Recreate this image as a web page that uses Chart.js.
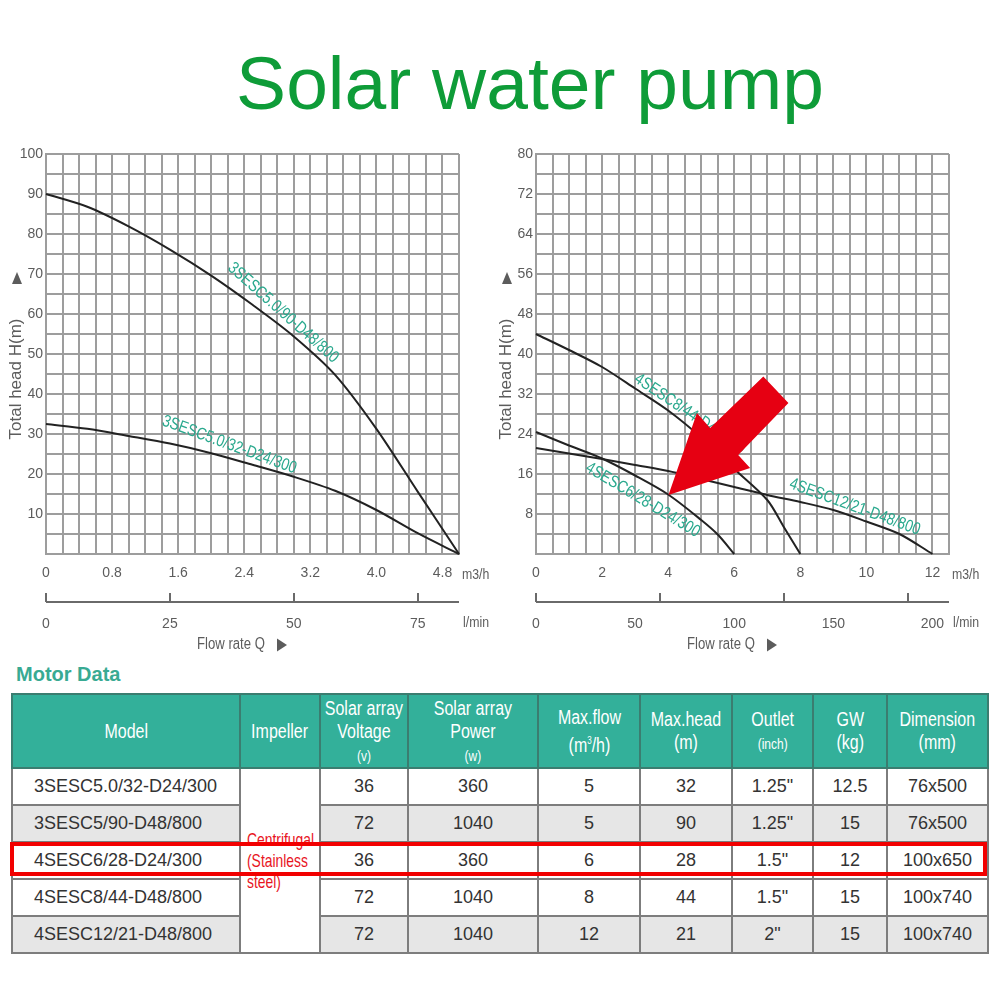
<!DOCTYPE html>
<html>
<head>
<meta charset="utf-8">
<script src="https://cdn.jsdelivr.net/npm/chart.js@4.4.1/dist/chart.umd.min.js"></script>
<style>
  body { margin: 0; width: 1000px; height: 1000px; background: #fff; position: relative; overflow: hidden; }
  #title { position: absolute; left: 0; top: 46px; width: 1060px; text-align: center;
    font: 75px/75px "Liberation Sans", Arial, sans-serif; color: #0e9c38; }
  .box { position: absolute; top: 140px; height: 520px; }
  #motor { position: absolute; left: 16px; top: 664px; font: bold 20px/20px "Liberation Sans", Arial, sans-serif; color: #38aa93; }
  table { position: absolute; left: 11px; top: 693px; width: 976px; border-collapse: collapse; table-layout: fixed;
    font-family: "Liberation Sans", Arial, sans-serif; }
  th { background: #33b09a; color: #fff; font-weight: normal; font-size: 20px; line-height: 23px; height: 72px;
    border: 2px solid #3b7d70; padding: 0; overflow: visible; }
  th small { font-size: 15px; line-height: 20px; }
  .nar { display: inline-block; transform: scaleX(0.8); white-space: nowrap; margin: 0 -40px; }
  td { font-size: 18px; color: #333; text-align: center; height: 35px; padding: 0; border: 2px solid #7d7d7d; }
  td.model { text-align: left; padding-left: 21px; }
  td.imp { color: #e8141e; background: #fff; text-align: left; padding-left: 6px; font-size: 18.5px; line-height: 21px; overflow: visible; }
  td.imp .nar { transform: scaleX(0.75); transform-origin: 0 50%; margin: 0; }
  tr.gray td { background: #e6e6e6; }
  #hl { position: absolute; left: 10px; top: 842px; width: 969px; height: 26px; border: 4px solid #f20000; }
</style>
</head>
<body>
<div id="title">Solar water pump</div>
<div class="box" style="left:0;width:495px"><canvas id="c1"></canvas></div>
<div class="box" style="left:495px;width:505px"><canvas id="c2"></canvas></div>
<div id="motor">Motor Data</div>
<table id="tbl"></table>
<div id="hl"></div>
<script>
const M3H_TO_LPM = 1000 / 60;

// left chart: 3" pumps
const flow1 = [0, 0.5, 1, 1.5, 2, 2.5, 3, 3.5, 4, 4.5, 5];
const head_5_90 = [90, 86.8, 81.9, 76.1, 69.6, 62.3, 54.4, 44.8, 31.3, 15.6, 0];
const head_5_32 = [32.5, 31.3, 29.5, 27.6, 25.2, 22.3, 19.3, 15.8, 11.0, 5.2, 0];
const qLabels1 = ['0', '0.8', '1.6', '2.4', '3.2', '4.0', '4.8'];
const hLabels1 = [10, 20, 30, 40, 50, 60, 70, 80, 90, 100];
const lpmLabels1 = [0, 25, 50, 75];

// right chart: 4" pumps
const flow_8_44 = [0, 1, 2, 3, 4, 5, 6, 7, 7.5, 8];
const head_8_44 = [44, 40.8, 37.4, 33.1, 28.7, 23.3, 17.0, 10.8, 5.4, 0];
const flow_6_28 = [0, 1, 2, 3, 4, 5, 5.5, 6];
const head_6_28 = [24.4, 21.7, 19.1, 15.7, 11.9, 6.8, 3.9, 0];
const flow_12_21 = [0, 1, 2, 3, 4, 5, 6, 7, 8, 9, 10, 11, 12];
const head_12_21 = [21.2, 20.1, 19.0, 17.8, 16.6, 15.0, 13.4, 11.8, 10.4, 8.8, 6.5, 4.0, 0];
const qLabels2 = ['0', '2', '4', '6', '8', '10', '12'];
const hLabels2 = [8, 16, 24, 32, 40, 48, 56, 64, 72, 80];
const lpmLabels2 = [0, 50, 100, 150, 200];

// table
const models = ['3SESC5.0/32-D24/300', '3SESC5/90-D48/800', '4SESC6/28-D24/300', '4SESC8/44-D48/800', '4SESC12/21-D48/800'];
const voltages = [36, 72, 36, 72, 72];
const powers = [360, 1040, 360, 1040, 1040];
const maxFlows = [5, 5, 6, 8, 12];
const maxHeads = [32, 90, 28, 44, 21];
const outlets = ['1.25"', '1.25"', '1.5"', '1.5"', '2"'];
const weights = ['12.5', '15', '12', '15', '15'];
const dims = ['76x500', '76x500', '100x650', '100x740', '100x740'];
const headers = ['Model', 'Impeller', 'Solar array<br>Voltage<br><small>(v)</small>', 'Solar array<br>Power<br><small>(w)</small>',
  'Max.flow<br>(m<sup style="font-size:10px">3</sup>/h)', 'Max.head<br>(m)', 'Outlet<br><small>(inch)</small>', 'GW<br>(kg)', 'Dimension<br>(mm)'];
const colWidths = [228, 80, 88, 130, 102, 92, 81, 74, 101];

const GRID = '#9d9d9d';
const TXT = '#5c5c5c';
Chart.defaults.font.family = '"Liberation Sans", Arial, sans-serif';

function tri(ctx, cx, cy, dir) {
  ctx.beginPath();
  if (dir === 'up') { ctx.moveTo(cx, cy - 6); ctx.lineTo(cx + 5, cy + 6); ctx.lineTo(cx - 5, cy + 6); }
  else { ctx.moveTo(cx + 5, cy); ctx.lineTo(cx - 5, cy - 6.5); ctx.lineTo(cx - 5, cy + 6.5); }
  ctx.closePath();
  ctx.fill();
}

// condensed text (no narrow font installed)
function narrowText(ctx, text, x, y, angle) {
  ctx.save();
  ctx.translate(x, y);
  ctx.rotate((angle || 0) * Math.PI / 180);
  ctx.scale(0.82, 1);
  ctx.fillText(text, 0, 0);
  ctx.restore();
}

function makeDeco(cfg) {
  return {
    id: 'deco',
    afterDatasetsDraw(chart) {
      const {ctx, scales: {x, y}} = chart;
      ctx.save();
      ctx.fillStyle = '#2aa98e';
      ctx.font = '17px "Liberation Sans", Arial, sans-serif';
      ctx.textAlign = 'center';
      ctx.textBaseline = 'middle';
      cfg.notes.forEach(n => narrowText(ctx, n.text, x.getPixelForValue(n.q), y.getPixelForValue(n.h), n.angle));
      if (cfg.arrow) {
        ctx.fillStyle = '#e60012';
        ctx.beginPath();
        cfg.arrow.forEach((p, i) => {
          const px = x.getPixelForValue(p[0]), py = y.getPixelForValue(p[1]);
          i ? ctx.lineTo(px, py) : ctx.moveTo(px, py);
        });
        ctx.closePath();
        ctx.fill();
      }
      ctx.restore();
    },
    afterDraw(chart) {
      const {ctx, chartArea: a} = chart;
      const x2 = chart.scales.x2;
      ctx.save();
      // l/min axis line with its marks
      const ly = a.bottom + 48;
      ctx.strokeStyle = '#6a6a6a';
      ctx.lineWidth = 2;
      ctx.beginPath();
      ctx.moveTo(a.left, ly);
      ctx.lineTo(a.right, ly);
      cfg.lpmMarks.forEach(v => {
        const px = Math.round(x2.getPixelForValue(v));
        ctx.moveTo(px, ly);
        ctx.lineTo(px, ly - 9);
      });
      ctx.stroke();
      ctx.fillStyle = TXT;
      ctx.font = '15px "Liberation Sans", Arial, sans-serif';
      ctx.textAlign = 'left';
      ctx.textBaseline = 'middle';
      narrowText(ctx, 'm3/h', a.right + 3, a.bottom + 21);
      narrowText(ctx, 'l/min', a.right + 4, a.bottom + 69);
      ctx.textAlign = 'center';
      ctx.font = '16px "Liberation Sans", Arial, sans-serif';
      narrowText(ctx, 'Flow rate Q', a.left + 185, a.bottom + 91);
      tri(ctx, a.left + 236, a.bottom + 91, 'right');
      ctx.font = '17px "Liberation Sans", Arial, sans-serif';
      ctx.save();
      ctx.translate(a.left - 29.5, a.top + 225);
      ctx.rotate(-Math.PI / 2);
      ctx.fillText('Total head H(m)', 0, 0);
      ctx.restore();
      tri(ctx, a.left - 29, a.top + 124, 'up');
      ctx.restore();
    }
  };
}

function makechart(id, cfg) {
  const sameVal = (a, b) => Math.abs(a - b) < 1e-6;
  new Chart(document.getElementById(id), {
    type: 'line',
    plugins: [makeDeco(cfg)],
    data: {
      datasets: cfg.curves.map(c => ({
        data: c.q.map((q, i) => ({x: q, y: c.h[i]})),
        borderColor: '#222',
        borderWidth: 2,
        pointRadius: 0,
        tension: 0.3,
        fill: false,
        clip: false
      }))
    },
    options: {
      animation: false,
      events: [],
      responsive: true,
      maintainAspectRatio: false,
      devicePixelRatio: 1,
      layout: {padding: {top: 14, left: 0, right: cfg.padRight, bottom: 0}},
      plugins: {legend: {display: false}, tooltip: {enabled: false}},
      scales: {
        x: {
          type: 'linear', position: 'bottom', weight: 0, min: 0, max: cfg.qMax,
          afterBuildTicks: s => { s.ticks = Array.from({length: Math.round(cfg.qMax / cfg.qStep) + 1}, (_, i) => ({value: +(i * cfg.qStep).toFixed(4)})); },
          afterFit: s => { s.height = 40; },
          grid: {color: GRID, lineWidth: 2, drawTicks: false},
          border: {color: GRID, width: 2},
          ticks: {
            autoSkip: false, maxRotation: 0, padding: 11, color: TXT, font: {size: 14},
            callback: v => cfg.qLabels.find(t => sameVal(parseFloat(t), v)) || ''
          }
        },
        x2: {
          type: 'linear', position: 'bottom', weight: 1, min: 0, max: cfg.qMax * M3H_TO_LPM,
          afterBuildTicks: s => { s.ticks = cfg.lpmLabels.map(v => ({value: v})); },
          afterFit: s => { s.height = 66; },
          grid: {display: false},
          border: {display: false},
          ticks: {autoSkip: false, maxRotation: 0, padding: 14, color: TXT, font: {size: 14}}
        },
        y: {
          type: 'linear', min: 0, max: cfg.hMax,
          afterBuildTicks: s => { s.ticks = Array.from({length: cfg.hMax / cfg.hStep + 1}, (_, i) => ({value: i * cfg.hStep})); },
          afterFit: s => { s.width = cfg.yWidth; },
          grid: {color: GRID, lineWidth: 2, drawTicks: false},
          border: {color: GRID, width: 2},
          ticks: {
            autoSkip: false, padding: 3, color: TXT, font: {size: 14},
            callback: v => cfg.hLabels.includes(v) ? String(v) : ''
          }
        }
      }
    }
  });
}

makechart('c1', {
  qMax: 5, qStep: 0.2, hMax: 100, hStep: 5, yWidth: 46, padRight: 36,
  qLabels: qLabels1, hLabels: hLabels1, lpmLabels: lpmLabels1, lpmMarks: [0, 25, 50, 75],
  curves: [{q: flow1, h: head_5_90}, {q: flow1, h: head_5_32}],
  notes: [
    {text: '3SESC5.0/90-D48/800', q: 2.87, h: 60.3, angle: 41.6},
    {text: '3SESC5.0/32-D24/300', q: 2.22, h: 27.3, angle: 20}
  ]
});

makechart('c2', {
  qMax: 12.5, qStep: 0.5, hMax: 80, hStep: 4, yWidth: 41, padRight: 51,
  qLabels: qLabels2, hLabels: hLabels2, lpmLabels: lpmLabels2, lpmMarks: [0, 62.5, 125, 187.5],
  curves: [{q: flow_8_44, h: head_8_44}, {q: flow_6_28, h: head_6_28}, {q: flow_12_21, h: head_12_21}],
  notes: [
    {text: '4SESC8/44-D48/800', q: 4.66, h: 28.1, angle: 33.7},
    {text: '4SESC6/28-D24/300', q: 3.23, h: 10.8, angle: 31},
    {text: '4SESC12/21-D48/800', q: 9.65, h: 9.4, angle: 20}
  ],
  // red pointer (flow, head)
  arrow: [[4.01, 11.8], [4.87, 28.2], [5.27, 25.2], [6.88, 35.5], [7.64, 30.2], [6.12, 19.8], [6.48, 17.2]]
});

// Motor data table
const tbl = document.getElementById('tbl');
let html = '<colgroup>' + colWidths.map(w => `<col style="width:${w}px">`).join('') + '</colgroup>';
html += '<tr>' + headers.map(h => `<th><span class="nar">${h}</span></th>`).join('') + '</tr>';
models.forEach((m, i) => {
  html += `<tr class="${i === 1 || i === 4 ? 'gray' : ''}"><td class="model">${m}</td>`;
  if (i === 0) html += '<td class="imp" rowspan="5"><span class="nar">Centrifugal<br>(Stainless<br>steel)</span></td>';
  html += [voltages[i], powers[i], maxFlows[i], maxHeads[i], outlets[i], weights[i], dims[i]].map(v => `<td>${v}</td>`).join('');
  html += '</tr>';
});
tbl.innerHTML = html;
</script>
</body>
</html>
